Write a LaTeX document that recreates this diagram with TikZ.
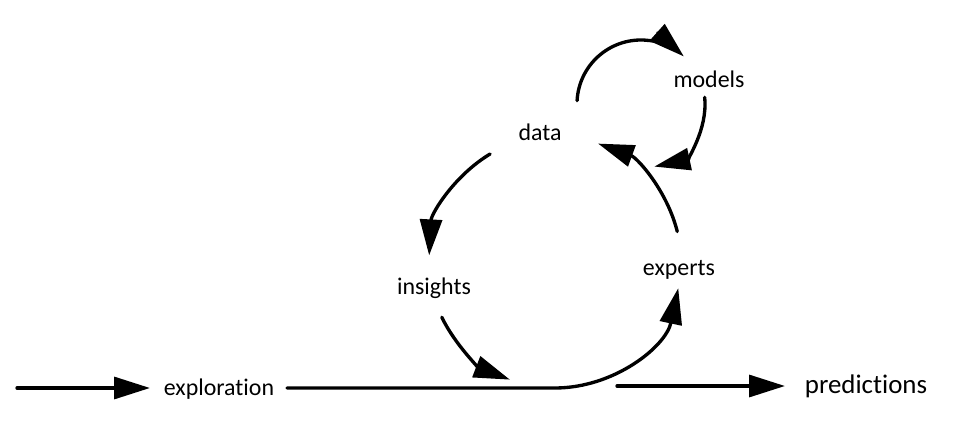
\documentclass[tikz,border=0pt]{standalone}
\usepackage{fontspec}
\setmainfont[Ligatures=NoCommon]{Carlito}
\usetikzlibrary{arrows.meta}
\usetikzlibrary{positioning}

\begin{document}
\begin{tikzpicture}[
	flow/.style={line width=1.9pt,line cap=round,-{Triangle[length=0.72cm,width=0.44cm]}},
	lbl/.style={inner sep=2pt,font=\fontsize{13.6}{16}\selectfont},
	big/.style={inner sep=2pt,font=\fontsize{15.3}{18}\selectfont}]
  \useasboundingbox (0,0) rectangle (19.36,8.48);
  % labels
  \node[lbl] (explor) at (4.38,0.70) {exploration};
  \node[big] (pred) at (17.32,0.76) {predictions};
  \node[lbl] (insights) at (8.68,2.72) {insights};
  \node[lbl] (experts) at (13.58,3.08) {experts};
  \node[lbl] (data) at (10.80,5.84) {data};
  \node[lbl] (models) at (14.18,6.89) {models};
  % centres of the two loops
  \coordinate (bigc) at (11.10,3.24);
  \coordinate (smallc) at (12.82,6.40);
  \coordinate (src) at (0.34,0.72);
  \coordinate (inlet) at (3.00,0.72);
  \coordinate (lstart) at (5.74,0.72);
  \coordinate (loop) at (11.10,0.72);
  \coordinate (ostart) at (12.34,0.76);
  \coordinate (otip) at (15.70,0.76);
  % straight arrows
  \draw[flow] (src) -- (inlet);
  \draw[flow] (ostart) -- (otip);
  \draw[flow] (lstart) -- (loop) arc[start angle=270,end angle=348,radius=2.52];
  % big loop
  \draw[flow] (bigc) ++(121:2.52) arc[start angle=121,end angle=177,radius=2.52];
  \draw[flow] (bigc) ++(206:2.52) arc[start angle=206,end angle=249,radius=2.52];
  \draw[flow] (bigc) ++(14:2.52) arc[start angle=14,end angle=70,radius=2.52];
  % small loop
  \draw[flow] (smallc) ++(177:1.28) arc[start angle=177,end angle=48,radius=1.28];
  \draw[flow] (smallc) ++(6:1.28) arc[start angle=6,end angle=-78,radius=1.28];
\end{tikzpicture}
\end{document}
